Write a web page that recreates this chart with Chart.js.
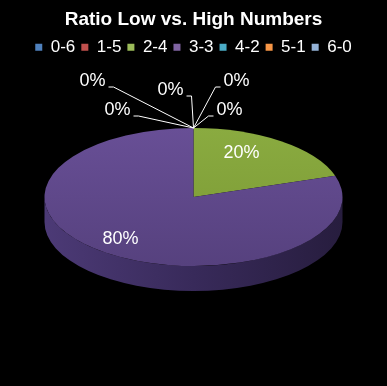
<!DOCTYPE html>
<html>
<head>
<meta charset="utf-8">
<script src="https://cdn.jsdelivr.net/npm/chart.js@4.4.0/dist/chart.umd.min.js"></script>
<style>
  html, body { margin: 0; padding: 0; background: #000; }
  canvas { display: block; }
</style>
</head>
<body>
<canvas id="ratioChart" width="387" height="386"></canvas>
<script>
// Ratio of low vs high numbers, share of draws in %
const categories = ["0-6", "1-5", "2-4", "3-3", "4-2", "5-1", "6-0"];
const shares = [0, 0, 20, 80, 0, 0, 0];

// legend swatches (Excel 2007 palette)
const legendColors = ["#4f81bd", "#c0504d", "#9bbb59", "#8064a2", "#4bacc6", "#f79646", "#95b3d7"];
// top face [upper, lower] and side wall [left, middle, right]
const faceColors = [
  ["#4a74a8", "#3d6290"], ["#ad4744", "#933a38"], ["#8aab40", "#7a9834"], ["#684f96", "#56417e"],
  ["#45a0b8", "#3a8a9f"], ["#e08a40", "#c67735"], ["#8aa4c6", "#7690b2"]
];
const sideColors = [
  ["#2f4a6e", "#243a57", "#1a2a40"], ["#6e2e2c", "#572423", "#3f1a19"], ["#56702a", "#445a20", "#314117"],
  ["#4c3a76", "#382a5a", "#271d3e"], ["#2c6878", "#22525f", "#183b44"], ["#935628", "#77451f", "#573317"],
  ["#5a6e8a", "#485a72", "#364356"]
];

const FONT = "'Liberation Sans', Arial, sans-serif";
// where the tilted pie sits on the page
const view = { cx: 193.5, cy: 197, rx: 149, ry: 69, depth: 25 };
// label tweaks: inside nudges, outside offsets for the 0% labels (relative to slice edge)
const insideNudge = [[0, 0], [0, 0], [-22, 1], [-3, -3], [0, 0], [0, 0], [0, 0]];
const outsideOffset = [[43, -47], [36, -18], null, null, [-76, -18], [-101, -47], [-23, -38]];

function faceColor(c) {
  const area = c.chart.chartArea;
  if (!area) return legendColors[c.dataIndex];
  const pair = faceColors[c.dataIndex];
  const midY = (area.top + area.bottom) / 2;
  const r = Math.min(area.width, area.height) / 2;
  const g = c.chart.ctx.createLinearGradient(0, midY - r, 0, midY + r);
  g.addColorStop(0, pair[0]);
  g.addColorStop(1, pair[1]);
  return g;
}

const pie3d = {
  id: "pie3d",
  beforeDatasetsDraw(chart) {
    const arcs = chart.getDatasetMeta(0).data;
    if (!arcs.length) return;
    const ctx = chart.ctx;
    // side wall, only the front half (canvas angles 0..PI) shows
    arcs.forEach((arc, i) => {
      const s = arc.startAngle, e = arc.endAngle;
      if (e - s <= 0) return;
      const cols = sideColors[i];
      const g = ctx.createLinearGradient(view.cx - view.rx, 0, view.cx + view.rx, 0);
      g.addColorStop(0, cols[0]);
      g.addColorStop(0.5, cols[1]);
      g.addColorStop(1, cols[2]);
      for (const k of [-2 * Math.PI, 0, 2 * Math.PI]) {
        const a = Math.max(s, k), b = Math.min(e, k + Math.PI);
        if (b <= a) continue;
        ctx.beginPath();
        ctx.ellipse(view.cx, view.cy, view.rx, view.ry, 0, a, b);
        ctx.ellipse(view.cx, view.cy + view.depth, view.rx, view.ry, 0, b, a, true);
        ctx.closePath();
        ctx.fillStyle = g;
        ctx.fill();
      }
    });
    // squash the round pie into the tilted ellipse
    const R = arcs[0].outerRadius;
    ctx.save();
    ctx.translate(view.cx, view.cy);
    ctx.scale(view.rx / R, view.ry / R);
    ctx.translate(-arcs[0].x, -arcs[0].y);
  },
  afterDatasetsDraw(chart) {
    const arcs = chart.getDatasetMeta(0).data;
    if (!arcs.length) return;
    const ctx = chart.ctx;
    ctx.restore();
    const total = shares.reduce((a, b) => a + b, 0);
    ctx.save();
    ctx.font = "18px " + FONT;
    ctx.fillStyle = "#fff";
    ctx.strokeStyle = "#fff";
    ctx.lineWidth = 1;
    ctx.textAlign = "center";
    ctx.textBaseline = "middle";
    arcs.forEach((arc, i) => {
      const mid = (arc.startAngle + arc.endAngle) / 2;
      const text = Math.round(shares[i] / total * 100) + "%";
      if (shares[i] > 0) {
        const x = view.cx + 0.8 * view.rx * Math.cos(mid) + insideNudge[i][0];
        const y = view.cy + 0.8 * view.ry * Math.sin(mid) + insideNudge[i][1];
        ctx.fillText(text, x, y);
        return;
      }
      const off = outsideOffset[i] || [0, -40];
      const ax = view.cx + view.rx * Math.cos(mid);
      const ay = view.cy + view.ry * Math.sin(mid);
      const lx = ax + off[0], ly = ay + off[1];
      ctx.fillText(text, lx, ly);
      const w = ctx.measureText(text).width;
      const side = off[0] < 0 ? 1 : -1;
      const sx = lx + side * (w / 2 + 3), sy = ly + 6;
      ctx.beginPath();
      ctx.moveTo(sx, sy);
      ctx.lineTo(sx + side * 5, sy);
      ctx.lineTo(ax, ay);
      ctx.stroke();
    });
    ctx.restore();
  }
};

new Chart(document.getElementById("ratioChart").getContext("2d"), {
  type: "pie",
  data: {
    labels: categories,
    datasets: [{
      data: shares,
      backgroundColor: faceColor,
      borderWidth: 0,
      hoverOffset: 0,
      clip: false
    }]
  },
  options: {
    responsive: false,
    animation: false,
    devicePixelRatio: 1,
    events: [],
    plugins: {
      title: {
        display: true,
        text: "Ratio Low vs. High Numbers",
        color: "#fff",
        font: { family: FONT, size: 19, weight: "bold" },
        padding: { top: 8, bottom: 2 }
      },
      legend: {
        position: "top",
        labels: {
          color: "#fff",
          font: { family: FONT, size: 17 },
          boxWidth: 7,
          boxHeight: 7,
          padding: 6,
          generateLabels: () => categories.map((t, i) => ({
            text: t,
            fillStyle: legendColors[i],
            strokeStyle: legendColors[i],
            lineWidth: 0,
            fontColor: "#fff",
            hidden: false,
            index: i
          }))
        }
      },
      tooltip: { enabled: false }
    }
  },
  plugins: [pie3d]
});
</script>
</body>
</html>
